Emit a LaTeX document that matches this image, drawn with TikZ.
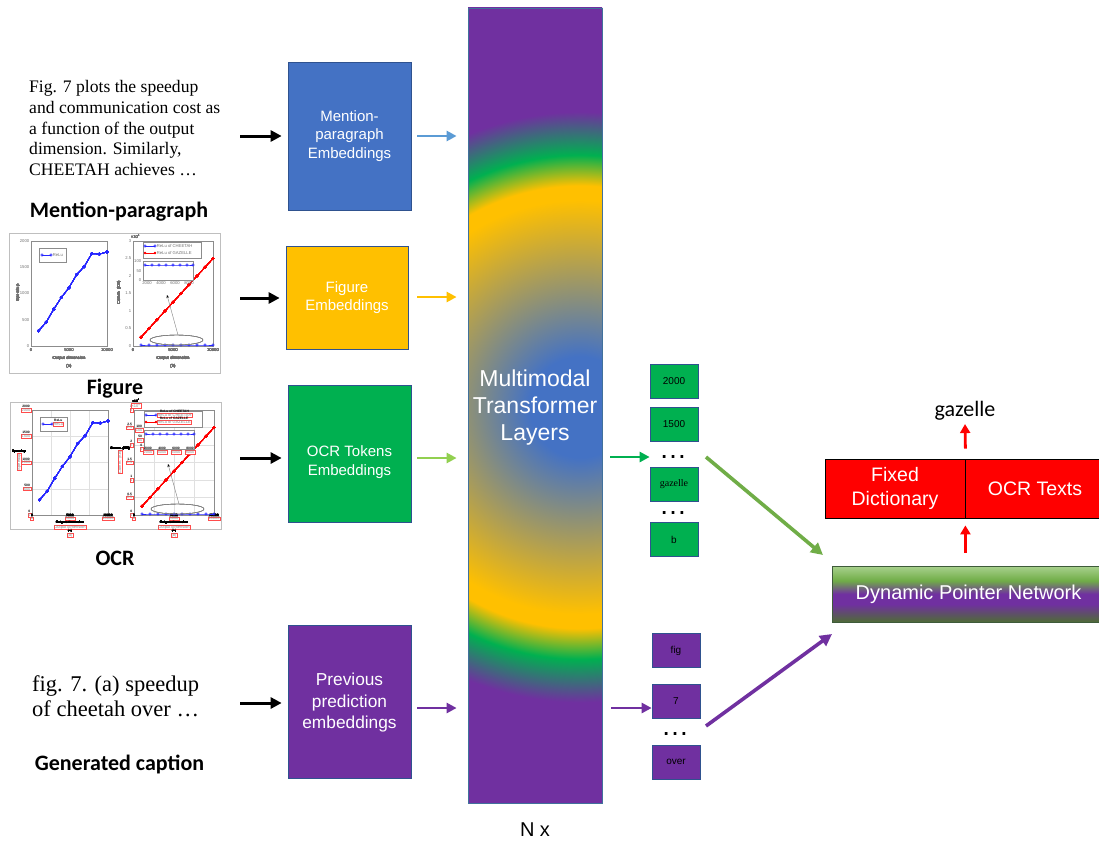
\documentclass[tikz,border=0pt]{standalone}
\usepackage{fontspec}
\setmainfont{Liberation Sans}
\newfontfamily\serifface{Liberation Serif}
\newfontfamily\calface{Carlito}
\usetikzlibrary{arrows.meta,plotmarks}

\definecolor{mpblue}{HTML}{4472C4}
\definecolor{figgold}{HTML}{FFC000}
\definecolor{ocrgreen}{HTML}{00B050}
\definecolor{prevpurple}{HTML}{7030A0}
\definecolor{edgeblue}{HTML}{2F528F}
\definecolor{tfedge}{HTML}{41719C}
\definecolor{arrowblue}{HTML}{5B9BD5}
\definecolor{arrowgreen}{HTML}{92D050}
\definecolor{diaggreen}{HTML}{70AD47}
\definecolor{dictred}{HTML}{FF0000}
\definecolor{dpnlight}{HTML}{A9D18E}
\definecolor{dpndark}{HTML}{4E6B36}
\definecolor{dpnedge}{HTML}{3E5B3A}

% transformer stack: blue core near the right edge, rings of gold, green, purple
\pgfdeclareradialshading{tfshade}{\pgfpoint{0bp}{0bp}}{%
  color(0bp)=(mpblue); color(2.8bp)=(mpblue); color(11.5bp)=(figgold);
  color(12.3bp)=(figgold); color(14bp)=(ocrgreen); color(16.4bp)=(prevpurple);
  color(50bp)=(prevpurple)}
% pointer network bar: light green top, purple middle, dark olive bottom
\pgfdeclareverticalshading{dpnshade}{100bp}{%
  color(0bp)=(dpndark); color(25bp)=(dpndark); color(41bp)=(prevpurple);
  color(50bp)=(prevpurple); color(62bp)=(diaggreen); color(75bp)=(dpnlight);
  color(100bp)=(dpnlight)}

% axis labels of the small plots: plain, or boxed as OCR detections
\newcommand\plainlab[4]{\node[ticklab,anchor=#1] at (#2,#3) {#4};}
\newcommand\plainrot[3]{\node[ticklab,rotate=90] at (#1,#2) {#3};}
\newcommand\boxedlab[4]{\node[ocrbox,anchor=#1] (olb) at (#2,#3) {#4};
  \node[ocrtxt,anchor=south] at (olb.north) {#4};}
\newcommand\boxedrot[3]{\node[ocrbox,rotate=90] (olr) at (#1,#2) {#3};
  \node[ocrtxt,anchor=south] at (olr.east) {#3};}
\let\lab\plainlab
\let\rlab\plainrot

\tikzset{
  pics/plotgrid/.style={code={
    \foreach \xx in {41,60,79} \draw[gridline] (\xx,8) -- (\xx,113);
    \foreach \yy in {34.25,60.5,86.75} \draw[gridline] (22,\yy) -- (98,\yy);
    \foreach \xx in {144,164,184} \draw[gridline] (\xx,8) -- (\xx,113);
    \foreach \yy in {25.5,43,60.5,78,95.5} \draw[gridline] (124,\yy) -- (204,\yy);
  }},
  pics/plotpair/.style={code={
    % (a) speedup
    \draw[plotframe] (22,8) rectangle (98,113);
    \foreach \v/\yy in {0/113,500/86.75,1000/60.5,1500/34.25,2000/8}
      \lab{east}{21}{\yy}{\v}
    \foreach \v/\xx in {0/22,5000/60,10000/98}
      \lab{north}{\xx}{114.5}{\v}
    \rlab{9}{60}{Speedup}
    \lab{center}{60}{125}{Output dimension}
    \lab{center}{60}{133}{(a)}
    \draw[cheetah] plot coordinates {(29.6,97.8) (37.2,89.1) (44.8,76.2)
      (52.4,64.4) (60,54.7) (67.6,41.6) (75.2,33.7) (82.8,20.6) (90.4,21.1) (98,19)};
    \draw[legendframe] (30,15) rectangle (57,29);
    \draw[cheetah] plot coordinates {(33,22) (42,22)};
    \lab{west}{43}{22}{ReLu}
    % (b) communication
    \draw[plotframe] (124,8) rectangle (204,113);
    \foreach \v/\yy in {0/113,0.5/95.5,1/78,1.5/60.5,2/43,2.5/25.5,3/8}
      \lab{east}{123}{\yy}{\v}
    \lab{south west}{121}{6}{×10\textsuperscript{4}}
    \foreach \v/\xx in {0/124,5000/164,10000/204}
      \lab{north}{\xx}{114.5}{\v}
    \rlab{110}{60}{Comm. (KB)}
    \lab{center}{164}{125}{Output dimension}
    \lab{center}{164}{133}{(b)}
    \draw[gazelle] plot coordinates {(132,104.25) (140,95.5) (148,86.75) (156,78)
      (164,69.25) (172,60.5) (180,51.75) (188,43) (196,34.25) (204,25.5)};
    \draw[cheetah] plot coordinates {(132,112) (140,112) (148,112) (156,112)
      (164,112) (172,112) (180,112) (188,112) (196,112) (204,112)};
    \draw[legendframe] (134,9) rectangle (192,25);
    \draw[cheetah] plot coordinates {(136,13) (146,13)};
    \draw[gazelle] plot coordinates {(136,20) (146,20)};
    \lab{west}{147}{13}{ReLu of CHEETAH}
    \lab{west}{147}{20}{ReLu of GAZELLE}
    \draw[plotframe, fill=white] (134,28) rectangle (184,47);
    \draw[cheetah] plot coordinates {(136,32) (143,32) (150,32) (157,32)
      (164,32) (171,32) (178,32) (184,32)};
    \lab{east}{133}{28}{100}
    \lab{east}{133}{38}{50}
    \lab{east}{133}{47}{0}
    \foreach \v/\xx in {2000/138,4000/152,6000/166,8000/180}
      \lab{north}{\xx}{48}{\v}
    \draw[black!50, line width=0.4pt] (167.5,107) ellipse [x radius=26.5pt, y radius=5pt];
    \draw[black!50, line width=0.4pt, -{Stealth[length=3pt,width=2.5pt,black]}]
      (169,102) -- (158,62);
  }}
}

\begin{document}
\begin{tikzpicture}[x=1pt,y=-1pt,
  embbox/.style={draw=edgeblue, line width=0.7pt, text=white, align=center,
    font=\fontsize{15}{18.5}\selectfont, inner sep=2pt},
  boxtext/.style={text=white, align=center, font=\fontsize{15}{18.5}\selectfont},
  tokbox/.style={draw=edgeblue, line width=0.7pt, minimum width=48pt,
    minimum height=34pt, font=\fontsize{10}{12}\selectfont, inner sep=1pt},
  inarrow/.style={line width=3pt, -{Triangle[length=11pt,width=11pt]}},
  outarrow/.style={line width=2.6pt, -{Triangle[length=10pt,width=10pt]}},
  diagarrow/.style={line width=3.6pt, -{Triangle[length=12pt,width=12pt]}},
  redarrow/.style={draw=dictred, line width=2.8pt, -{Triangle[length=9pt,width=10pt]}},
  tokdots/.style={font=\fontsize{28}{30}\selectfont, inner sep=0pt},
  boldlabel/.style={font=\calface\bfseries\fontsize{22}{26}\selectfont, inner sep=0pt},
  ticklab/.style={font=\fontsize{4.2}{5}\selectfont, inner sep=0.6pt, text=black!55},
  ocrbox/.style={draw=red!70, line width=0.3pt, font=\fontsize{4}{5}\selectfont,
    inner sep=0.4pt, text=black!45, fill=white},
  ocrtxt/.style={font=\bfseries\fontsize{3.3}{4}\selectfont, inner sep=0.2pt},
  plotframe/.style={draw=black!45, line width=0.35pt},
  gridline/.style={draw=black!12, line width=0.3pt},
  legendframe/.style={draw=black!45, line width=0.35pt, fill=white},
  cheetah/.style={draw=blue!85, line width=0.7pt, mark=o, mark size=1.2pt,
    mark options={solid, line width=0.5pt}},
  gazelle/.style={draw=red, line width=0.7pt, mark=*, mark size=0.8pt,
    mark options={fill=red}},
]
\useasboundingbox (0,0) rectangle (1099,843);
\fill[white] (0,0) rectangle (1099,843);

% ---------- inputs ----------
\node[anchor=north west, align=left, inner sep=0pt,
  font=\serifface\fontsize{17.6}{20.8}\selectfont] (mptext) at (29,80)
  {Fig. 7 plots the speedup\\and communication cost as\\a function of the output\\dimension. Similarly,\\CHEETAH achieves …};
\node[boldlabel, anchor=base] (mplabel) at (119,217) {Mention-paragraph};

\begin{scope}[shift={(9,233)}]
  \draw[black!25, line width=0.5pt] (0,0) rectangle (211,140);
  \pic {plotpair};
\end{scope}
\node[boldlabel, anchor=base] (figlabel) at (115,394) {Figure};

\begin{scope}[shift={(10,402)}, yscale=0.933]
  \let\lab\boxedlab
  \let\rlab\boxedrot
  \draw[black!25, line width=0.5pt] (0,0) rectangle (211,136);
  \pic {plotgrid};
  \pic {plotpair};
\end{scope}
\node[boldlabel, anchor=base] (ocrlabel) at (115,565) {OCR};

\node[anchor=north west, align=left, inner sep=0pt,
  font=\serifface\fontsize{22.5}{24.5}\selectfont] (captext) at (32,675.5)
  {fig. 7. (a) speedup\\of cheetah over …};
\node[boldlabel, anchor=base] (caplabel) at (119.5,770) {Generated caption};

% ---------- embedding boxes ----------
\node[embbox, fill=mpblue, minimum width=123pt, minimum height=148pt] (mp) at (349.5,136)
  {Mention-\\paragraph\\Embeddings};
\node[embbox, fill=figgold, minimum width=122pt, minimum height=103pt] (fig) at (347,297.5)
  {Figure\\Embeddings};
\node[embbox, fill=ocrgreen, minimum width=123pt, minimum height=137pt] (ocr) at (349.5,453.5) {};
\node[boxtext] (ocrname) at (349.5,462) {OCR Tokens\\Embeddings};
\node[embbox, fill=prevpurple, minimum width=123pt, minimum height=153pt] (prev) at (349.5,701.5) {};
\node[boxtext, font=\fontsize{17.3}{21.5}\selectfont] (prevname) at (349.5,703)
  {Previous\\prediction\\embeddings};

\coordinate (mpin) at (240,136);
\coordinate (figin) at (240,298);
\coordinate (ocrin) at (240,458);
\coordinate (previn) at (240,703);
\foreach \src/\dst in {mpin/mp, figin/fig, ocrin/ocr, previn/prev}
  \draw[inarrow] (\src) -- ([xshift=-6pt]\src -| \dst.west);

% ---------- transformer stack ----------
\begin{scope}
  \clip (468,8) rectangle (602,803);
  \shade[shading=tfshade] (580,407) circle [radius=450pt];
\end{scope}
\node[draw=tfedge, line width=0.8pt, minimum width=134pt, minimum height=795pt,
  inner sep=0pt] (tf) at (535,405.5) {};
\node[text=white, align=center, font=\fontsize{23}{27}\selectfont] (tflabel) at (535,408)
  {Multimodal\\Transformer\\Layers};
\node[font=\fontsize{20}{24}\selectfont] (nx) at (535,830) {N x};

\coordinate (mpout) at (417,136);
\coordinate (figout) at (417,297);
\coordinate (ocrout) at (417,458);
\coordinate (prevout) at (417,708);
\draw[outarrow, arrowblue] (mpout) -- ([xshift=-11pt]mpout -| tf.west);
\draw[outarrow, figgold] (figout) -- ([xshift=-11pt]figout -| tf.west);
\draw[outarrow, arrowgreen] (ocrout) -- ([xshift=-11pt]ocrout -| tf.west);
\draw[outarrow, prevpurple] (prevout) -- ([xshift=-11pt]prevout -| tf.west);

% ---------- output tokens ----------
\node[tokbox, fill=ocrgreen] (t2000) at (674,381) {2000};
\node[tokbox, fill=ocrgreen] (t1500) at (674,424) {1500};
\node[tokdots] (gdots1) at (673,457) {…};
\node[tokbox, fill=ocrgreen, font=\serifface\fontsize{10}{12}\selectfont] (tgaz) at (674,484) {gazelle};
\node[tokdots] (gdots2) at (673,513) {…};
\node[tokbox, fill=ocrgreen] (tb) at (674,539.5) {b};

\node[tokbox, fill=prevpurple] (pfig) at (676,650.5) {fig};
\node[tokbox, fill=prevpurple] (p7) at (676,701) {7};
\node[tokdots] (pdots) at (675,734) {…};
\node[tokbox, fill=prevpurple] (pover) at (676,762) {over};

\coordinate (tfg) at (610,457);
\coordinate (tfp) at (611,708);
\draw[outarrow, ocrgreen] (tfg) -- (tfg -| t2000.west);
\draw[outarrow, prevpurple] (tfp) -- (tfp -| p7.west);

% ---------- pointer network and vocabularies ----------
\node[shade, shading=dpnshade, draw=dpnedge, line width=0.8pt, minimum width=273pt,
  minimum height=56pt, text=white, font=\fontsize{20}{24}\selectfont] (dpn) at (968.5,594)
  {Dynamic Pointer Network};
\node[fill=dictred, draw=black, line width=0.8pt, minimum width=140pt, minimum height=59pt,
  text=white, align=center, font=\fontsize{19.5}{24}\selectfont] (dict) at (895,488.5)
  {Fixed\\Dictionary};
\node[fill=dictred, draw=black, line width=0.8pt, minimum width=140pt, minimum height=59pt,
  text=white, font=\fontsize{19.5}{24}\selectfont] (ocrtexts) at (1035,488.5) {OCR Texts};
\node[font=\calface\fontsize{22}{26}\selectfont] (word) at (965,411) {gazelle};

\coordinate (gfrom) at (706,457);
\coordinate (gto) at (823,555);
\coordinate (pfrom) at (706,726);
\coordinate (pto) at (832,634);
\draw[diagarrow, diaggreen] (gfrom) -- (gto);
\draw[diagarrow, prevpurple] (pfrom) -- (pto);

\coordinate (dpntop) at (dict.south east |- dpn.north);
\draw[redarrow] ([yshift=13pt]dpntop) -- ([yshift=-7pt]dict.south east);
\draw[redarrow] ([yshift=10pt]dict.north east) -- (word.south);
\end{tikzpicture}
\end{document}
